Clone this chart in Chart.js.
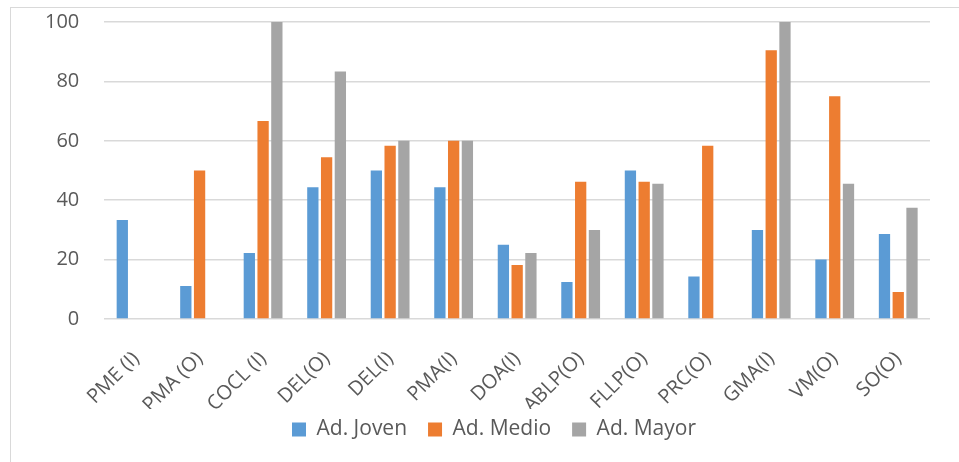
<!DOCTYPE html>
<html>
<head>
<meta charset="utf-8">
<script src="https://cdn.jsdelivr.net/npm/chart.js@4/dist/chart.umd.min.js"></script>
<style>
  html, body { margin: 0; padding: 0; background: #fff; }
  #wrap { position: relative; width: 959px; height: 462px; overflow: hidden; }
  #frame { position: absolute; left: 10px; top: 7px; width: 960px; height: 470px; border: 1px solid #d9d9d9; }
  #box { position: absolute; left: 0; top: 0; width: 959px; height: 462px; }
</style>
</head>
<body>
<div id="wrap">
  <div id="frame"></div>
  <div id="box"><canvas id="chart"></canvas></div>
</div>
<script>
const categories = ["PME (I)", "PMA (O)", "COCL (I)", "DEL(O)", "DEL(I)", "PMA(I)", "DOA(I)",
  "ABLP(O)", "FLLP(O)", "PRC(O)", "GMA(I)", "VM(O)", "SO(O)"];
const joven = [33.3, 11.1, 22.2, 44.4, 50, 44.4, 25, 12.5, 50, 14.3, 30, 20, 28.6];
const medio = [0, 50, 66.7, 54.5, 58.3, 60, 18.2, 46.2, 46.2, 58.3, 90.5, 75, 9.1];
const mayor = [0, 0, 100, 83.3, 60, 60, 22.2, 30, 45.5, 0, 100, 45.5, 37.5];
const seriesNames = ["Ad. Joven", "Ad. Medio", "Ad. Mayor"];
const colors = ["#5b9bd5", "#ed7d31", "#a5a5a5"];

const textColor = "#595959";
const font = "'Open Sans', sans-serif";

// pull the legend up under the slanted labels and a bit to the right
const legendNudge = {
  id: "legendNudge",
  afterLayout: function (chart) {
    const lg = chart.legend;
    lg.left += 19;
    lg.right += 19;
    lg.top -= 11;
    lg.bottom -= 11;
  }
};

const ctx = document.getElementById("chart").getContext("2d");
const chart = new Chart(ctx, {
  type: "bar",
  data: {
    labels: categories,
    datasets: [joven, medio, mayor].map(function (vals, i) {
      return {
        label: seriesNames[i],
        data: vals,
        backgroundColor: colors[i],
        borderWidth: 0,
        categoryPercentage: 0.65,
        barPercentage: 0.82
      };
    })
  },
  plugins: [legendNudge],
  options: {
    responsive: true,
    maintainAspectRatio: false,
    devicePixelRatio: 1,
    animation: false,
    layout: { padding: { left: 20, right: 29, top: 22, bottom: 1 } },
    plugins: {
      tooltip: { enabled: false },
      legend: {
        position: "bottom",
        labels: {
          color: textColor,
          font: { family: font, size: 21 },
          boxWidth: 14,
          boxHeight: 14,
          padding: 21
        }
      }
    },
    scales: {
      x: {
        grid: { display: false },
        border: { display: false },
        ticks: {
          color: textColor,
          font: { family: font, size: 20 },
          autoSkip: false,
          minRotation: 45,
          maxRotation: 45,
          padding: 20
        },
        afterFit: function (scale) {
          scale.paddingLeft = 0;
          scale.height = 90;
        }
      },
      y: {
        min: 0,
        max: 100,
        grid: { color: "#d9d9d9", lineWidth: 1.5, drawTicks: false },
        border: { display: false },
        ticks: {
          stepSize: 20,
          color: textColor,
          font: { family: font, size: 20 },
          padding: 25
        },
        afterFit: function (scale) {
          scale.paddingTop = 0;
          scale.paddingBottom = 0;
        }
      }
    }
  }
});
</script>
</body>
</html>
